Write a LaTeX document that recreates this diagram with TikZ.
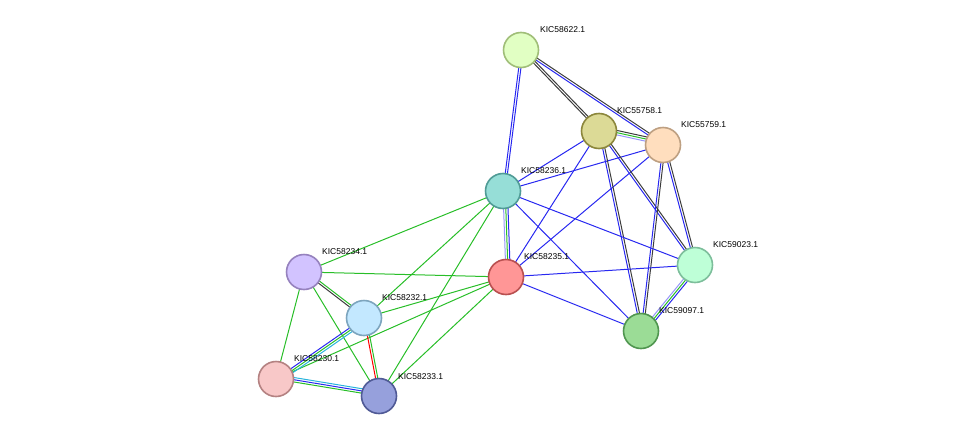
\documentclass[tikz,border=0pt]{standalone}
\usepackage{fontspec}
\setmainfont{Liberation Sans}
\usetikzlibrary{calc}
\definecolor{sgreen}{RGB}{40,190,40}
\definecolor{sblue}{RGB}{40,40,240}
\definecolor{slight}{RGB}{150,150,250}
\definecolor{scyan}{RGB}{40,180,220}
\definecolor{sdark}{RGB}{60,60,60}
\tikzset{prot/.style={circle,draw,line width=1.6pt,minimum size=35pt,inner sep=0pt},
  lab/.style={font=\fontsize{8.5pt}{9pt}\selectfont,inner sep=0pt,anchor=south west}}
% multi-coloured edge: \link{a}{b}{colour list}
\newcommand{\link}[3]{%
  \foreach \c [count=\i] in {#3} {
    \pgfmathsetmacro{\o}{(\i-1)*2.2}
    \draw[\c,line width=1pt] ($(#1)!\o pt!90:(#2)$) -- ($(#2)!\o pt!-90:(#1)$);
  }}
\begin{document}
\begin{tikzpicture}[x=1pt,y=-1pt]
\useasboundingbox (0,0) rectangle (976,442);

% edge ends
\coordinate (p622) at (521,50);
\coordinate (p758) at (599,131);
\coordinate (p759) at (663,145);
\coordinate (p236) at (503,191);
\coordinate (p235) at (506,277);
\coordinate (p234) at (304,272);
\coordinate (p232) at (364,318);
\coordinate (p230) at (276,379);
\coordinate (p233) at (379,396);
\coordinate (p023) at (695,265);
\coordinate (p097) at (641,331);

\link{p622}{p236}{sblue,sblue}
\link{p622}{p758}{sdark,sdark}
\link{p622}{p759}{sblue,sdark}
\link{p758}{p759}{slight,sgreen,sdark}
\link{p758}{p236}{sblue}
\link{p758}{p235}{sblue}
\link{p759}{p236}{sblue}
\link{p759}{p235}{sblue}
\link{p758}{p097}{sblue,sdark}
\link{p758}{p023}{sblue,sdark}
\link{p759}{p097}{sblue,sdark}
\link{p759}{p023}{sblue,sdark}
\link{p236}{p023}{sblue}
\link{p236}{p097}{sblue}
\link{p235}{p023}{sblue}
\link{p235}{p097}{sblue}
\link{p023}{p097}{slight,sgreen,sblue}
\link{p236}{p235}{slight,sgreen,sblue}
\link{p236}{p234}{sgreen}
\link{p236}{p232}{sgreen}
\link{p236}{p233}{sgreen}
\link{p235}{p234}{sgreen}
\link{p235}{p232}{sgreen}
\link{p235}{p230}{sgreen}
\link{p235}{p233}{sgreen}
\link{p234}{p232}{sdark,sgreen}
\link{p234}{p230}{sgreen}
\link{p234}{p233}{sgreen}
\link{p232}{p230}{sblue,sgreen,scyan}
\link{p232}{p233}{red,sgreen}
\link{p230}{p233}{sgreen,sblue,scyan}

% proteins
\node[prot,draw={rgb,255:red,160;green,190;blue,120},fill={rgb,255:red,225;green,255;blue,195}] (n622) at (p622) {};
\node[prot,draw={rgb,255:red,140;green,135;blue,60},fill={rgb,255:red,220;green,218;blue,150}] (n758) at (p758) {};
\node[prot,draw={rgb,255:red,190;green,160;blue,130},fill={rgb,255:red,255;green,222;blue,190}] (n759) at (p759) {};
\node[prot,draw={rgb,255:red,80;green,155;blue,150},fill={rgb,255:red,150;green,222;blue,215}] (n236) at (p236) {};
\node[prot,draw={rgb,255:red,185;green,80;blue,80},fill={rgb,255:red,255;green,150;blue,150}] (n235) at (p235) {};
\node[prot,draw={rgb,255:red,150;green,130;blue,190},fill={rgb,255:red,210;green,195;blue,255}] (n234) at (p234) {};
\node[prot,draw={rgb,255:red,125;green,165;blue,190},fill={rgb,255:red,195;green,232;blue,255}] (n232) at (p232) {};
\node[prot,draw={rgb,255:red,180;green,130;blue,130},fill={rgb,255:red,248;green,200;blue,200}] (n230) at (p230) {};
\node[prot,draw={rgb,255:red,80;green,90;blue,150},fill={rgb,255:red,150;green,160;blue,220}] (n233) at (p233) {};
\node[prot,draw={rgb,255:red,125;green,190;blue,155},fill={rgb,255:red,190;green,255;blue,215}] (n023) at (p023) {};
\node[prot,draw={rgb,255:red,80;green,150;blue,80},fill={rgb,255:red,155;green,220;blue,150}] (n097) at (p097) {};

% labels
\node[lab] at (540,33) {KIC58622.1};
\node[lab] at (617,114) {KIC55758.1};
\node[lab] at (681,128) {KIC55759.1};
\node[lab] at (521,174) {KIC58236.1};
\node[lab] at (524,260) {KIC58235.1};
\node[lab] at (322,255) {KIC58234.1};
\node[lab] at (382,301) {KIC58232.1};
\node[lab] at (294,362) {KIC58230.1};
\node[lab] at (398,380) {KIC58233.1};
\node[lab] at (713,248) {KIC59023.1};
\node[lab] at (659,314) {KIC59097.1};
\end{tikzpicture}
\end{document}
